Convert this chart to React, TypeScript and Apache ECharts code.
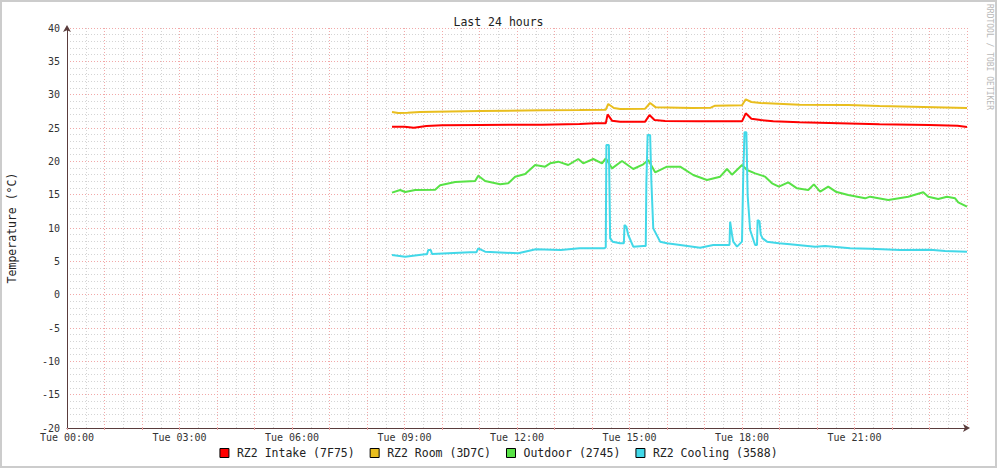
import React, { useEffect, useRef } from "react";
import * as echarts from "echarts";

// time in minutes since Tue 00:00, value in °C
const intake: [number, number][] = [
  [520, 25.2], [540, 25.2], [555, 25.05], [575, 25.3], [600, 25.4], [660, 25.45], [760, 25.5],
  [820, 25.6], [845, 25.7], [862, 25.7], [865, 27.05], [872, 26.1], [885, 25.95], [925, 25.95],
  [932, 26.95], [940, 26.2], [957, 26.05], [1010, 26.0], [1080, 26.0], [1086, 27.2], [1095, 26.4],
  [1110, 26.2], [1130, 26.0], [1172, 25.85], [1235, 25.7], [1300, 25.55], [1380, 25.45],
  [1425, 25.35], [1440, 25.15],
];

const room: [number, number][] = [
  [520, 27.4], [530, 27.25], [545, 27.3], [565, 27.4], [660, 27.55], [760, 27.65], [820, 27.7],
  [862, 27.75], [866, 28.6], [875, 28.0], [885, 27.85], [925, 27.9], [933, 28.75], [942, 28.1],
  [1000, 28.0], [1030, 28.05], [1037, 28.35], [1080, 28.4], [1086, 29.3], [1095, 28.9],
  [1110, 28.75], [1172, 28.5], [1250, 28.45], [1300, 28.3], [1370, 28.15], [1440, 28.0],
];

const outdoor: [number, number][] = [
  [520, 15.3], [533, 15.7], [541, 15.4], [557, 15.7], [589, 15.75], [597, 16.4], [621, 16.9],
  [653, 17.05], [658, 17.85], [669, 17.05], [693, 16.55], [706, 16.7], [717, 17.7], [733, 18.1],
  [749, 19.45], [765, 19.2], [773, 19.7], [786, 19.95], [802, 19.45], [818, 20.35], [826, 19.7],
  [842, 20.35], [856, 19.7], [862, 20.45], [872, 18.95], [888, 20.05], [906, 18.85], [922, 19.55],
  [930, 20.2], [941, 18.35], [960, 19.2], [981, 19.2], [1002, 17.95], [1024, 17.2], [1045, 17.7],
  [1056, 18.85], [1064, 18.0], [1080, 19.45], [1088, 18.7], [1101, 18.2], [1117, 17.7],
  [1128, 16.7], [1139, 16.2], [1154, 16.85], [1168, 15.95], [1186, 15.7], [1195, 16.55],
  [1205, 15.45], [1218, 16.2], [1230, 15.45], [1250, 14.95], [1277, 14.45], [1285, 14.7],
  [1314, 14.2], [1346, 14.7], [1370, 15.35], [1378, 14.7], [1394, 14.35], [1408, 14.7],
  [1421, 14.45], [1426, 13.85], [1440, 13.2],
];

const cooling: [number, number][] = [
  [520, 5.95], [541, 5.7], [573, 6.05], [576, 6.05], [578, 6.7], [582, 6.7], [584, 6.1],
  [645, 6.35], [655, 6.35], [658, 6.95], [669, 6.45], [722, 6.2], [750, 6.8], [790, 6.7],
  [820, 6.95], [860, 6.95], [862, 7.1], [863, 22.45], [867, 22.45], [869, 8.45], [873, 7.95],
  [885, 7.7], [891, 7.7], [892, 10.45], [895, 10.2], [898, 8.95], [906, 7.2], [922, 7.3],
  [926, 7.3], [927, 16.9], [929, 23.95], [933, 23.95], [935, 16.95], [938, 9.95], [949, 7.95],
  [960, 7.7], [981, 7.45], [1013, 7.05], [1034, 7.45], [1060, 7.45], [1061, 10.95],
  [1064, 9.0], [1066, 7.95], [1072, 7.2], [1080, 7.95], [1082, 18], [1084, 24.35], [1087, 24.35],
  [1089, 14.95], [1093, 9.7], [1101, 7.45], [1104, 7.45], [1105, 11.2], [1108, 11.0],
  [1110, 9.0], [1113, 8.45], [1120, 7.95], [1139, 7.7], [1157, 7.55], [1197, 7.2], [1213, 7.3],
  [1253, 6.95], [1285, 6.9], [1333, 6.7], [1381, 6.75], [1405, 6.55], [1440, 6.45],
];

const seriesNames = ["RZ2 Intake (7F75)", "RZ2 Room (3D7C)", "Outdoor (2745)", "RZ2 Cooling (3588)"];
const seriesColors = ["#FF0000", "#E9BE1E", "#58E246", "#42D8E8"];
const seriesData = [intake, room, outdoor, cooling];

const titleText = "Last 24 hours";
const yAxisName = "Temperature (°C)";
const watermark = "RRDTOOL / TOBI OETIKER";
const dayLabel = "Tue";

const MONO = "'DejaVu Sans Mono', monospace";

export default function App() {
  const ref = useRef<HTMLDivElement>(null);
  useEffect(() => {
    document.body.style.margin = "0";
    const chart = echarts.init(ref.current!, null, { renderer: "svg" });
    const axisColor = "#5a3c3c";
    chart.setOption({
      animation: false,
      backgroundColor: "#ffffff",
      title: {
        text: titleText,
        left: "center",
        top: 11,
        textStyle: { fontFamily: MONO, fontSize: 11.5, fontWeight: "normal", color: "#222" },
      },
      legend: {
        bottom: 4,
        left: "center",
        icon: "rect",
        itemWidth: 9,
        itemHeight: 9,
        itemGap: 15,
        selectedMode: false,
        textStyle: { fontFamily: MONO, fontSize: 11.5, color: "#222", padding: [0, 0, 0, 3] },
        data: seriesNames.map((n, i) => ({
          name: n,
          itemStyle: { color: seriesColors[i], borderColor: "#000", borderWidth: 1 },
        })),
      },
      grid: { left: 67, right: 30, top: 28, bottom: 40, containLabel: false, outerBoundsMode: "none" },
      xAxis: {
        type: "value",
        min: 0,
        max: 1440,
        interval: 60,
        axisLine: {
          onZero: false,
          lineStyle: { color: axisColor, width: 1 },
          symbol: ["none", "arrow"],
          symbolSize: [6, 7],
          symbolOffset: [0, 3],
        },
        axisTick: { show: true, length: 2, lineStyle: { color: "#e8a0a0" } },
        axisLabel: {
          margin: 4,
          fontFamily: MONO,
          fontSize: 10,
          color: "#333",
          showMaxLabel: false,
          formatter: (v: number) => {
            if (v % 180 !== 0 || v >= 1440) return "";
            const h = Math.round(v / 60);
            return `${dayLabel} ${String(h).padStart(2, "0")}:00`;
          },
        },
        splitLine: { show: true, lineStyle: { color: "#f2a8a8", type: [1, 2], width: 1 } },
        minorTick: { show: false, splitNumber: 2 },
        minorSplitLine: { show: true, lineStyle: { color: "#d4d4d4", type: [1, 2], width: 1 } },
      },
      yAxis: {
        type: "value",
        min: -20,
        max: 40,
        interval: 5,
        name: yAxisName,
        nameLocation: "middle",
        nameGap: 49,
        nameRotate: 90,
        nameTextStyle: { fontFamily: MONO, fontSize: 11.5, color: "#222" },
        axisLine: {
          show: true,
          onZero: false,
          lineStyle: { color: axisColor, width: 1 },
          symbol: ["none", "arrow"],
          symbolSize: [6, 7],
          symbolOffset: [0, 3],
        },
        axisTick: { show: false },
        axisLabel: { margin: 7, fontFamily: MONO, fontSize: 10, color: "#333" },
        splitLine: { show: true, lineStyle: { color: "#f2a8a8", type: [1, 2], width: 1 } },
        minorTick: { show: false, splitNumber: 5 },
        minorSplitLine: { show: true, lineStyle: { color: "#d4d4d4", type: [1, 2], width: 1 } },
      },
      graphic: [
        {
          type: "rect",
          shape: { x: 0, y: 0, width: 997, height: 468 },
          style: { fill: "none", stroke: "#cccccc", lineWidth: 4 },
          silent: true,
        },
        {
          type: "text",
          x: 989,
          y: 4,
          rotation: -Math.PI / 2,
          style: {
            text: watermark,
            fontFamily: MONO,
            fontSize: 8,
            fill: "#b8b8b8",
            align: "left",
            verticalAlign: "middle",
          },
          silent: true,
        },
      ],
      series: seriesData.map((d, i) => ({
        name: seriesNames[i],
        type: "line",
        data: d,
        showSymbol: false,
        color: seriesColors[i],
        lineStyle: { width: 2, color: seriesColors[i] },
        itemStyle: { color: seriesColors[i], borderColor: "#000", borderWidth: 1 },
        z: 3 + i,
      })),
    });
    return () => chart.dispose();
  }, []);
  return <div ref={ref} style={{ width: 997, height: 468, position: "absolute", left: 0, top: 0 }} />;
}
